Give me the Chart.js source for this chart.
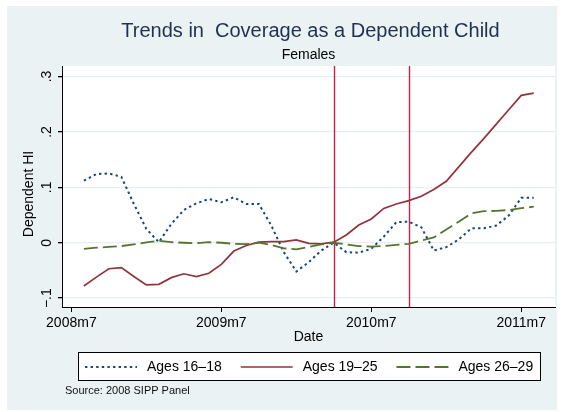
<!DOCTYPE html>
<html>
<head>
<meta charset="utf-8">
<script src="https://cdn.jsdelivr.net/npm/chart.js@4.4.1/dist/chart.umd.min.js"></script>
<style>
  html, body { margin: 0; padding: 0; background: #fff; }
  #wrap { width: 564px; height: 412px; }
</style>
</head>
<body>
<div id="wrap"><canvas id="chart" width="564" height="412"></canvas></div>
<script>
// months since 2008m7
const months = [1, 2, 3, 4, 5, 6, 7, 8, 9, 10, 11, 12, 13, 14, 15, 16, 17, 18, 19,
  20, 21, 22, 23, 24, 25, 26, 27, 28, 29, 30, 31, 32, 33, 34, 35, 36, 37];

const ages1618 = [0.112, 0.124, 0.125, 0.119, 0.070, 0.025, 0.001, 0.034, 0.059, 0.071,
  0.079, 0.073, 0.082, 0.070, 0.070, 0.031, -0.017, -0.052, -0.035, -0.014,
  0.000, -0.017, -0.018, -0.011, 0.011, 0.037, 0.038, 0.028, -0.014, -0.008,
  0.006, 0.026, 0.026, 0.031, 0.049, 0.081, 0.081];

const ages1925 = [-0.078, -0.062, -0.047, -0.045, -0.061, -0.076, -0.075, -0.063, -0.056, -0.061,
  -0.055, -0.039, -0.015, -0.005, 0.001, 0.002, 0.002, 0.005, -0.001, -0.002,
  0.001, 0.014, 0.032, 0.043, 0.062, 0.070, 0.076, 0.084, 0.096, 0.111,
  0.137, 0.163, 0.188, 0.214, 0.240, 0.266, 0.270];

const ages2629 = [-0.011, -0.009, -0.0075, -0.006, -0.003, 0.0005, 0.0036, 0.001, 0.000, -0.001,
  0.001, 0.000, -0.002, -0.0025, 0.000, -0.004, -0.010, -0.012, -0.0075, -0.003,
  0.000, -0.003, -0.006, -0.007, -0.006, -0.004, -0.002, 0.004, 0.0095, 0.024,
  0.038, 0.053, 0.057, 0.0575, 0.059, 0.0625, 0.065];

const seriesNames = ["Ages 16\u201318", "Ages 19\u201325", "Ages 26\u201329"];
const xTickMonths = [0, 12, 24, 36];
const xTickLabels = ["2008m7", "2009m7", "2010m7", "2011m7"];
const yTickValues = [-0.1, 0, 0.1, 0.2, 0.3];
const yTickLabels = ["\u2212.1", "0", ".1", ".2", ".3"];
const policyMonths = [21, 27];   // 2010m4, 2010m10

const titleText = "Trends in  Coverage as a Dependent Child";
const subtitleText = "Females";
const yTitle = "Dependent HI";
const xTitle = "Date";
const noteText = "Source: 2008 SIPP Panel";

const FONT = "'Liberation Sans', Arial, Helvetica, sans-serif";
Chart.defaults.font.family = FONT;

function toPoints(values) {
    return months.map((m, i) => ({ x: m, y: values[i] }));
}

const stataLook = {
    id: "stataLook",
    beforeDraw(chart) {
        const ctx = chart.ctx;
        const a = chart.chartArea;
        ctx.save();
        ctx.fillStyle = "#ffffff";
        ctx.fillRect(0, 0, chart.width, chart.height);
        ctx.fillStyle = "#eaf2f3";
        ctx.fillRect(7, 6, 550, 404);
        ctx.fillStyle = "#ffffff";
        ctx.fillRect(a.left, a.top, a.right - a.left, a.bottom - a.top);
        ctx.restore();
    },
    beforeDatasetsDraw(chart) {
        const ctx = chart.ctx;
        const a = chart.chartArea;
        const xs = chart.scales.x;
        ctx.save();
        ctx.strokeStyle = "#c8204a";
        ctx.lineWidth = 1.4;
        policyMonths.forEach(m => {
            const px = Math.round(xs.getPixelForValue(m)) + 0.5;
            ctx.beginPath();
            ctx.moveTo(px, a.top);
            ctx.lineTo(px, a.bottom);
            ctx.stroke();
        });
        ctx.restore();
    },
    afterDraw(chart) {
        const ctx = chart.ctx;
        const a = chart.chartArea;
        const ys = chart.scales.y;
        const cx = (a.left + a.right) / 2;
        ctx.save();
        ctx.textAlign = "center";
        ctx.textBaseline = "middle";

        // titles
        ctx.fillStyle = "#1f3052";
        ctx.font = "20px " + FONT;
        ctx.fillText(titleText, cx + 2, 31);
        ctx.fillStyle = "#000000";
        ctx.font = "14px " + FONT;
        ctx.fillText(subtitleText, cx, 55);

        // y tick labels, rotated like Stata
        ctx.font = "14px " + FONT;
        yTickValues.forEach((v, i) => {
            const py = ys.getPixelForValue(v);
            ctx.save();
            ctx.translate(47, py);
            ctx.rotate(-Math.PI / 2);
            ctx.fillText(yTickLabels[i], 0, 0);
            ctx.restore();
        });

        // axis titles
        ctx.save();
        ctx.translate(29, 194);
        ctx.rotate(-Math.PI / 2);
        ctx.fillText(yTitle, 0, 0);
        ctx.restore();
        ctx.fillText(xTitle, cx, 337);

        // legend box
        ctx.fillStyle = "#ffffff";
        ctx.fillRect(78.5, 352.5, 462, 28);
        ctx.strokeStyle = "#000000";
        ctx.lineWidth = 1;
        ctx.strokeRect(78.5, 352.5, 462, 28);

        ctx.textAlign = "left";
        let x = 85;
        const ly = 367;
        chart.data.datasets.forEach(ds => {
            ctx.save();
            ctx.strokeStyle = ds.borderColor;
            ctx.lineWidth = ds.borderWidth;
            ctx.setLineDash(ds.borderDash || []);
            ctx.beginPath();
            ctx.moveTo(x, ly);
            ctx.lineTo(x + 52, ly);
            ctx.stroke();
            ctx.restore();
            x += 62;
            ctx.fillStyle = "#000000";
            ctx.fillText(ds.label, x, ly);
            x += ctx.measureText(ds.label).width + 19;
        });

        // note
        ctx.font = "11px " + FONT;
        ctx.fillStyle = "#111111";
        ctx.fillText(noteText, 65, 391);
        ctx.restore();
    }
};

new Chart(document.getElementById("chart"), {
    type: "line",
    data: {
        datasets: [
            {
                label: seriesNames[0],
                data: toPoints(ages1618),
                borderColor: "#1a476f",
                borderWidth: 2,
                borderDash: [2.4, 3.2],
                pointRadius: 0,
                tension: 0,
                order: 3
            },
            {
                label: seriesNames[1],
                data: toPoints(ages1925),
                borderColor: "#90353b",
                borderWidth: 1.7,
                pointRadius: 0,
                tension: 0,
                order: 2
            },
            {
                label: seriesNames[2],
                data: toPoints(ages2629),
                borderColor: "#55752f",
                borderWidth: 1.8,
                borderDash: [14, 5],
                pointRadius: 0,
                tension: 0,
                order: 1
            }
        ]
    },
    options: {
        responsive: false,
        animation: false,
        devicePixelRatio: 1,
        layout: { padding: { left: 0, right: 9, top: 66, bottom: 0 } },
        plugins: {
            legend: { display: false },
            title: { display: false },
            tooltip: { enabled: false }
        },
        scales: {
            x: {
                type: "linear",
                min: -0.75,
                max: 38.7,
                afterBuildTicks: scale => {
                    scale.ticks = xTickMonths.map(v => ({ value: v }));
                },
                afterFit: scale => { scale.height = 105; },
                ticks: {
                    autoSkip: false,
                    maxRotation: 0,
                    minRotation: 0,
                    padding: 3,
                    color: "#000000",
                    font: { size: 14 },
                    callback: (value, index) => xTickLabels[index]
                },
                grid: {
                    drawOnChartArea: false,
                    drawTicks: true,
                    tickLength: 5,
                    tickColor: "#000000"
                },
                border: { display: true, color: "#000000", width: 1 }
            },
            y: {
                type: "linear",
                min: -0.116,
                max: 0.319,
                afterBuildTicks: scale => {
                    scale.ticks = yTickValues.map(v => ({ value: v }));
                },
                afterFit: scale => { scale.width = 62; },
                ticks: { display: false },
                grid: {
                    color: "#e6eff1",
                    lineWidth: 1.3,
                    drawTicks: true,
                    tickLength: 4,
                    tickColor: "#000000"
                },
                border: { display: true, color: "#000000", width: 1 }
            }
        }
    },
    plugins: [stataLook]
});
</script>
</body>
</html>
